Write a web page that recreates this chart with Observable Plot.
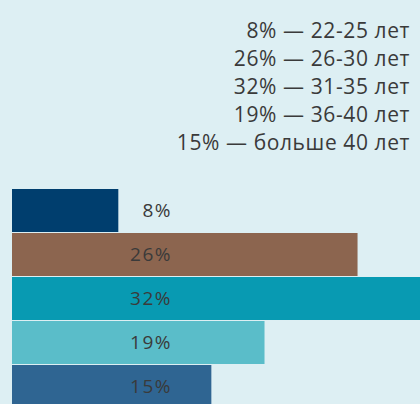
<!DOCTYPE html>
<html>
<head>
<meta charset="utf-8">
<script src="https://cdn.jsdelivr.net/npm/d3@7"></script>
<script src="https://cdn.jsdelivr.net/npm/@observablehq/plot@0.6"></script>
<style>
  html, body { margin: 0; padding: 0; background: #ddeff3; overflow: hidden; }
  #chart svg { display: block; }
</style>
</head>
<body>
<div id="chart"></div>
<script>
const ageGroups = ["22-25 лет", "26-30 лет", "31-35 лет", "36-40 лет", "больше 40 лет"];
const shares = [8, 26, 32, 19, 15];
const barColors = ["#003e6e", "#8c654f", "#089ab2", "#5abdc9", "#2f6592"];

const rows = ageGroups.map((age, i) => ({age, share: shares[i], color: barColors[i]}));
const legendText = rows.map(d => `${d.share}% — ${d.age}`).join("\n");

const chart = Plot.plot({
  width: 420,
  height: 404,
  margin: 0,
  style: {background: "#ddeff3", fontFamily: "'Open Sans', sans-serif"},
  x: {domain: [0, 30.7], range: [12, 420], axis: null},
  y: {domain: ageGroups, range: [189, 408], paddingInner: 0.03, paddingOuter: 0, axis: null},
  marks: [
    Plot.barX(rows, {x: "share", y: "age", fill: "color", inset: 0}),
    Plot.text(rows, {
      y: "age", frameAnchor: "left", dx: 171.5, textAnchor: "end",
      text: d => `${d.share}%`, fill: "#3a3a3a", fontSize: 19
    }),
    Plot.text([legendText], {
      frameAnchor: "top-right", dx: -10.4, dy: 17.5, lineHeight: 1.33,
      fill: "#3a3a3a", fontSize: 21
    })
  ]
});
d3.select(chart).selectAll("text").each(function () {
  const multi = this.querySelector("tspan") !== null;
  this.style.letterSpacing = multi ? "0.6px" : "1.5px";
});
document.getElementById("chart").appendChild(chart);
</script>
</body>
</html>
